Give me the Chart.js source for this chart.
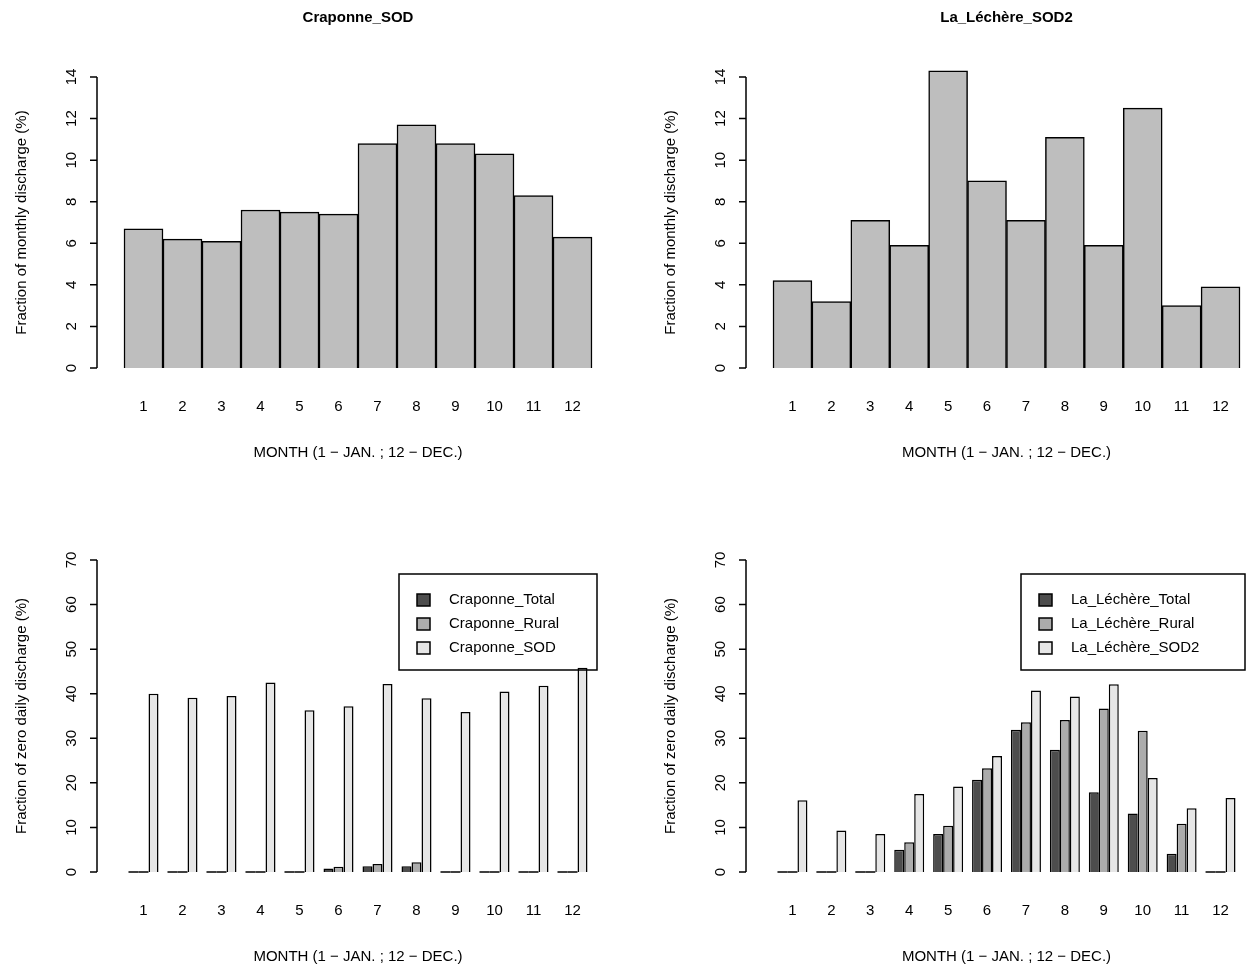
<!DOCTYPE html>
<html lang="en">
<head>
<meta charset="UTF-8">
<title>Monthly discharge</title>
<script src="https://cdn.jsdelivr.net/npm/chart.js"></script>
<style>
  body { margin: 0; background: white; font-family: "Liberation Sans", Arial, sans-serif; }
  .panel { position: absolute; }
</style>
</head>
<body>
<canvas id="c1" class="panel" width="628" height="486" style="left:0;top:0"></canvas>
<canvas id="c2" class="panel" width="629" height="486" style="left:628px;top:0"></canvas>
<canvas id="c3" class="panel" width="628" height="486" style="left:0;top:486px"></canvas>
<canvas id="c4" class="panel" width="629" height="486" style="left:628px;top:486px"></canvas>
<script>
const months = ['1','2','3','4','5','6','7','8','9','10','11','12'];

const craponneSodFrac = [6.7, 6.2, 6.1, 7.6, 7.5, 7.4, 10.8, 11.7, 10.8, 10.3, 8.3, 6.3];
const lechereSod2Frac = [4.2, 3.2, 7.1, 5.9, 14.3, 9.0, 7.1, 11.1, 5.9, 12.5, 3.0, 3.9];

const craponneTotal = [0, 0, 0, 0, 0, 0.8, 1.3, 1.3, 0, 0, 0, 0];
const craponneRural = [0, 0, 0, 0, 0, 1.2, 1.8, 2.2, 0, 0, 0, 0];
const craponneSod = [40.0, 39.1, 39.5, 42.5, 36.3, 37.2, 42.2, 39.0, 35.9, 40.5, 41.8, 45.8];

const lechereTotal = [0, 0, 0, 5.0, 8.5, 20.7, 31.9, 27.4, 17.9, 13.1, 4.1, 0];
const lechereRural = [0, 0, 0, 6.7, 10.4, 23.3, 33.6, 34.1, 36.7, 31.7, 10.8, 0];
const lechereSod2 = [16.1, 9.3, 8.5, 17.5, 19.2, 26.0, 40.7, 39.4, 42.1, 21.1, 14.3, 16.6];

const FONT = '"Liberation Sans", Arial, sans-serif';
const DARK = '#4d4d4d', MID = '#acacac', LIGHT = '#e6e6e6', TOPBAR = '#bebebe';

// R-style axes, labels, titles and legend, placed from the chart's own scales
const rAxes = {
  id: 'rAxes',
  afterDatasetsDraw(chart) {
    // zero-height bars show as a flat line in R
    const ctx = chart.ctx, y0 = chart.scales.y.getPixelForValue(0);
    ctx.save(); ctx.strokeStyle = '#000'; ctx.lineWidth = 1.5;
    chart.data.datasets.forEach((ds, di) => {
      chart.getDatasetMeta(di).data.forEach((bar, i) => {
        if (ds.data[i] === 0) {
          ctx.beginPath(); ctx.moveTo(bar.x - bar.width / 2, y0); ctx.lineTo(bar.x + bar.width / 2, y0); ctx.stroke();
        }
      });
    });
    ctx.restore();
  },
  afterDraw(chart) {
    const o = chart.options.plugins.rAxes;
    const ctx = chart.ctx, ca = chart.chartArea;
    const x = chart.scales.x, y = chart.scales.y;
    ctx.save();
    ctx.strokeStyle = '#000'; ctx.fillStyle = '#000'; ctx.lineWidth = 1.5;
    const ax = ca.left - 27;
    ctx.beginPath();
    ctx.moveTo(ax, y.getPixelForValue(0)); ctx.lineTo(ax, y.getPixelForValue(o.max));
    for (let v = 0; v <= o.max; v += o.step) {
      const py = y.getPixelForValue(v);
      ctx.moveTo(ax, py); ctx.lineTo(ax - 7, py);
    }
    ctx.stroke();
    ctx.font = '15px ' + FONT;
    ctx.textAlign = 'center'; ctx.textBaseline = 'middle';
    for (let v = 0; v <= o.max; v += o.step) {
      const py = y.getPixelForValue(v);
      ctx.save(); ctx.translate(ax - 25, py); ctx.rotate(-Math.PI / 2);
      ctx.fillText(String(v), 0, 0); ctx.restore();
    }
    months.forEach((m, i) => ctx.fillText(m, x.getPixelForValue(i), ca.bottom + 39));
    ctx.fillText('MONTH (1 \u2212 JAN. ; 12 \u2212 DEC.)', (ca.left + ca.right) / 2, ca.bottom + 85);
    ctx.save(); ctx.translate(ax - 75, (ca.top + ca.bottom) / 2); ctx.rotate(-Math.PI / 2);
    ctx.fillText(o.ytitle, 0, 0); ctx.restore();
    if (o.title) {
      ctx.font = 'bold 15px ' + FONT;
      ctx.fillText(o.title, (ca.left + ca.right) / 2, 18);
    }
    if (o.legend) {
      const lg = o.legend;
      ctx.lineWidth = 1.5;
      ctx.strokeRect(lg.x, lg.y, lg.w, 96);
      ctx.font = '15px ' + FONT; ctx.textAlign = 'left';
      chart.data.datasets.forEach((ds, i) => {
        const ly = lg.y + 26 + i * 24;
        ctx.fillStyle = ds.backgroundColor;
        ctx.fillRect(lg.x + 18, ly - 6, 13, 12);
        ctx.strokeRect(lg.x + 18, ly - 6, 13, 12);
        ctx.fillStyle = '#000';
        ctx.fillText(ds.label, lg.x + 50, ly);
      });
    }
    ctx.restore();
  }
};

function makeChart(id, datasets, grouped, pad, opts) {
  new Chart(document.getElementById(id), {
    type: 'bar',
    data: { labels: months, datasets },
    options: {
      responsive: false,
      animation: false,
      devicePixelRatio: 1,
      layout: { padding: pad },
      datasets: { bar: { barPercentage: 1, categoryPercentage: grouped ? 0.77 : 1, borderWidth: 1.5, borderColor: '#000', clip: false } },
      scales: {
        x: { display: false, offset: true },
        y: { display: false, min: 0, max: opts.max }
      },
      plugins: { legend: { display: false }, tooltip: { enabled: false }, rAxes: opts }
    },
    plugins: [rAxes]
  });
}

makeChart('c1', [{ label: 'Craponne_SOD', data: craponneSodFrac, backgroundColor: TOPBAR }], false,
  { left: 124, right: 36, top: 77, bottom: 118 },
  { max: 14, step: 2, title: 'Craponne_SOD', ytitle: 'Fraction of monthly discharge (%)' });
makeChart('c2', [{ label: 'La_Léchère_SOD2', data: lechereSod2Frac, backgroundColor: TOPBAR }], false,
  { left: 145, right: 17, top: 77, bottom: 118 },
  { max: 14, step: 2, title: 'La_Léchère_SOD2', ytitle: 'Fraction of monthly discharge (%)' });
makeChart('c3', [
    { label: 'Craponne_Total', data: craponneTotal, backgroundColor: DARK },
    { label: 'Craponne_Rural', data: craponneRural, backgroundColor: MID },
    { label: 'Craponne_SOD', data: craponneSod, backgroundColor: LIGHT }], true,
  { left: 124, right: 36, top: 74, bottom: 100 },
  { max: 70, step: 10, ytitle: 'Fraction of zero daily discharge (%)', legend: { x: 399, y: 88, w: 198 } });
makeChart('c4', [
    { label: 'La_Léchère_Total', data: lechereTotal, backgroundColor: DARK },
    { label: 'La_Léchère_Rural', data: lechereRural, backgroundColor: MID },
    { label: 'La_Léchère_SOD2', data: lechereSod2, backgroundColor: LIGHT }], true,
  { left: 145, right: 17, top: 74, bottom: 100 },
  { max: 70, step: 10, ytitle: 'Fraction of zero daily discharge (%)', legend: { x: 393, y: 88, w: 224 } });
</script>
</body>
</html>
